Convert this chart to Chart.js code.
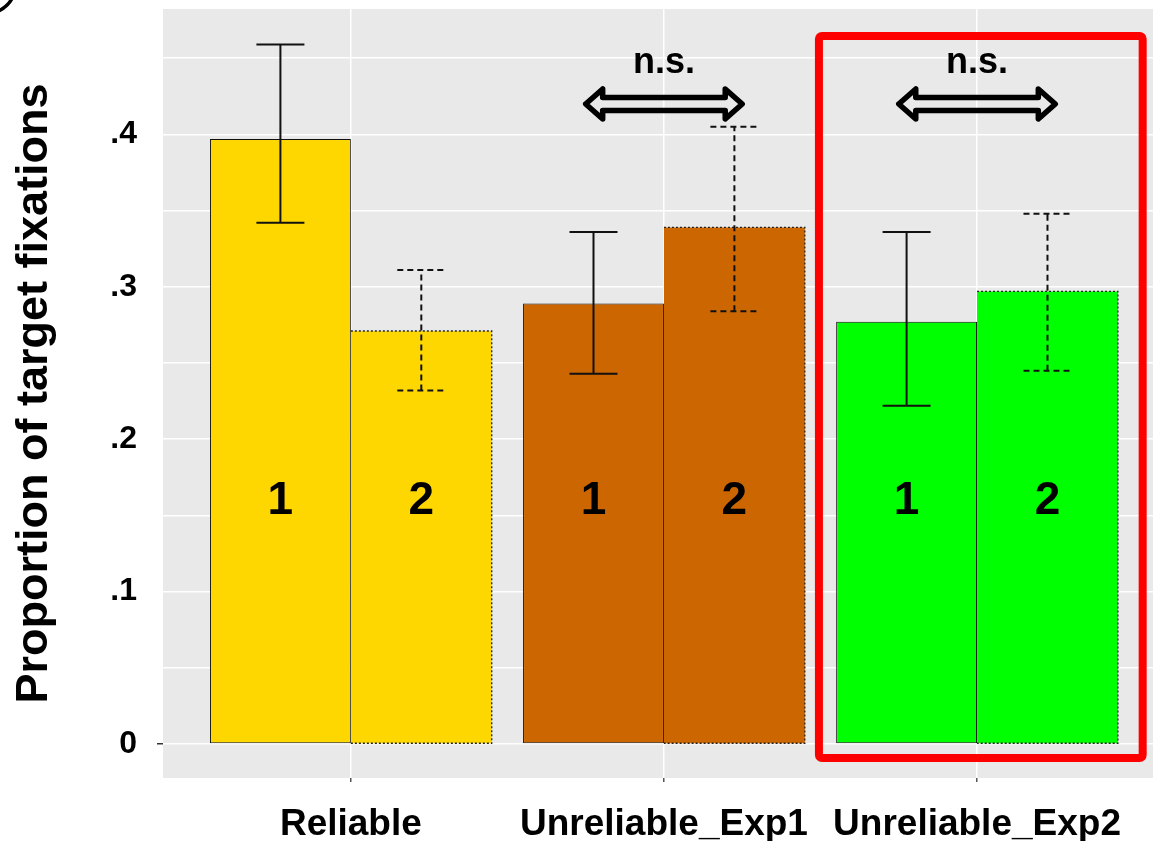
<!DOCTYPE html>
<html>
<head>
<meta charset="utf-8">
<script src="https://cdn.jsdelivr.net/npm/chart.js@4/dist/chart.umd.min.js"></script>
<style>
html,body{margin:0;padding:0;background:#fff;}
#wrap{width:1153px;height:841px;position:relative;}
</style>
</head>
<body>
<div id="wrap"><canvas id="c" width="1153" height="841"></canvas></div>
<script>
// ---- data ----
const categories = ['Reliable', 'Unreliable_Exp1', 'Unreliable_Exp2'];
const categoryPositions = [0, 1, 2];
const cond1Values = [0.397, 0.289, 0.277];
const cond2Values = [0.271, 0.339, 0.297];
const cond1Lower = [0.342, 0.243, 0.222];
const cond1Upper = [0.459, 0.336, 0.336];
const cond2Lower = [0.232, 0.284, 0.245];
const cond2Upper = [0.311, 0.405, 0.348];
const barColors = ['#FFD700', '#CC6600', '#00FF00'];
const barNumbers = ['1', '2'];
const barNumberY = 0.159;
const yTickValues = [0, 0.05, 0.1, 0.15, 0.2, 0.25, 0.3, 0.35, 0.4, 0.45];
const yTickLabels = {0: '0', 0.1: '.1', 0.2: '.2', 0.3: '.3', 0.4: '.4'};
const nsGroups = [1, 2];
const nsTextY = 0.447;
const nsArrowY = 0.420;
const nsArrowHalf = 0.25;
const highlightBox = {x0: 1.495, x1: 2.529, y0: -0.0092, y1: 0.4646};

const FONT = 'Liberation Sans, Arial, sans-serif';

const bgPlugin = {
  id: 'bg',
  beforeDraw(chart) {
    const {ctx, chartArea: a} = chart;
    ctx.save();
    ctx.fillStyle = '#E9E9E9';
    ctx.fillRect(a.left, a.top, a.right - a.left, a.bottom - a.top);
    // corner mark of panel letter
    ctx.strokeStyle = '#000';
    ctx.lineWidth = 3.5;
    ctx.beginPath();
    ctx.arc(-12, -14, 27, 0, Math.PI / 2);
    ctx.stroke();
    ctx.restore();
  }
};

const overlayPlugin = {
  id: 'overlay',
  afterDatasetsDraw(chart) {
    const {ctx} = chart;
    const xs = chart.scales.x, ys = chart.scales.y;
    ctx.save();
    // dotted borders for condition 2 bars
    const meta2 = chart.getDatasetMeta(1);
    meta2.data.forEach(bar => {
      const half = bar.width / 2;
      const l = bar.x - half, r = bar.x + half, t = bar.y, b = bar.base;
      ctx.strokeStyle = '#222';
      ctx.lineWidth = 1.3;
      ctx.setLineDash([2, 2]);
      ctx.beginPath();
      ctx.moveTo(l, t); ctx.lineTo(r, t); ctx.lineTo(r, b); ctx.lineTo(l, b);
      ctx.stroke();
    });
    ctx.setLineDash([]);
    // error bars
    const drawErr = (meta, lo, hi, dashed) => {
      meta.data.forEach((bar, i) => {
        const x = bar.x;
        const yl = ys.getPixelForValue(lo[i]);
        const yh = ys.getPixelForValue(hi[i]);
        const cw = 24;
        ctx.strokeStyle = '#111';
        ctx.lineWidth = 2;
        ctx.setLineDash(dashed ? [6, 4] : []);
        ctx.beginPath();
        ctx.moveTo(x, yl); ctx.lineTo(x, yh);
        ctx.moveTo(x - cw, yh); ctx.lineTo(x + cw, yh);
        ctx.moveTo(x - cw, yl); ctx.lineTo(x + cw, yl);
        ctx.stroke();
      });
      ctx.setLineDash([]);
    };
    drawErr(chart.getDatasetMeta(0), cond1Lower, cond1Upper, false);
    drawErr(meta2, cond2Lower, cond2Upper, true);
    // numbers in bars
    ctx.fillStyle = '#000';
    ctx.font = 'bold 46px ' + FONT;
    ctx.textAlign = 'center';
    ctx.textBaseline = 'middle';
    [0, 1].forEach(di => {
      chart.getDatasetMeta(di).data.forEach(bar => {
        ctx.fillText(barNumbers[di], bar.x, ys.getPixelForValue(barNumberY));
      });
    });
    // n.s. annotations
    nsGroups.forEach(g => {
      const cx = xs.getPixelForValue(g);
      ctx.fillStyle = '#000';
      ctx.font = 'bold 36px ' + FONT;
      ctx.fillText('n.s.', cx, ys.getPixelForValue(nsTextY));
      const cy = ys.getPixelForValue(nsArrowY);
      const L = xs.getPixelForValue(g + nsArrowHalf) - cx;
      const hl = 17, hh = 15, sh = 6.5;
      ctx.strokeStyle = '#000';
      ctx.lineWidth = 5.5;
      ctx.lineJoin = 'round';
      ctx.lineCap = 'round';
      ctx.beginPath();
      ctx.moveTo(cx - L, cy);
      ctx.lineTo(cx - L + hl, cy - hh);
      ctx.lineTo(cx - L + hl, cy - sh);
      ctx.lineTo(cx + L - hl, cy - sh);
      ctx.lineTo(cx + L - hl, cy - hh);
      ctx.lineTo(cx + L, cy);
      ctx.lineTo(cx + L - hl, cy + hh);
      ctx.lineTo(cx + L - hl, cy + sh);
      ctx.lineTo(cx - L + hl, cy + sh);
      ctx.lineTo(cx - L + hl, cy + hh);
      ctx.closePath();
      ctx.stroke();
    });
    // red highlight box
    const bx0 = xs.getPixelForValue(highlightBox.x0), bx1 = xs.getPixelForValue(highlightBox.x1);
    const by0 = ys.getPixelForValue(highlightBox.y1), by1 = ys.getPixelForValue(highlightBox.y0);
    ctx.strokeStyle = '#FF0000';
    ctx.lineWidth = 8;
    ctx.lineJoin = 'round';
    ctx.beginPath();
    ctx.roundRect(bx0, by0, bx1 - bx0, by1 - by0, 3);
    ctx.stroke();
    ctx.restore();
  }
};

new Chart(document.getElementById('c'), {
  type: 'bar',
  data: {
    datasets: [
      {
        label: 'Condition 1',
        data: categoryPositions.map((x, i) => ({x: x, y: cond1Values[i]})),
        backgroundColor: barColors,
        borderColor: '#111',
        borderWidth: 1,
        borderSkipped: false,
        categoryPercentage: 0.9,
        barPercentage: 1.0
      },
      {
        label: 'Condition 2',
        data: categoryPositions.map((x, i) => ({x: x, y: cond2Values[i]})),
        backgroundColor: barColors,
        borderWidth: 0,
        categoryPercentage: 0.9,
        barPercentage: 1.0
      }
    ]
  },
  options: {
    responsive: false,
    animation: false,
    devicePixelRatio: 1,
    layout: {padding: {top: 9, right: 0, left: 0, bottom: 0}},
    plugins: {legend: {display: false}, tooltip: {enabled: false}},
    scales: {
      x: {
        type: 'linear',
        min: -0.6,
        max: 2.562,
        offset: false,
        border: {display: false},
        grid: {
          offset: false,
          color: '#FFFFFF',
          lineWidth: 1.5,
          drawTicks: true,
          tickLength: 4,
          tickColor: '#555'
        },
        afterBuildTicks(scale) {
          scale.ticks = categoryPositions.map(v => ({value: v}));
        },
        ticks: {
          autoSkip: false,
          maxRotation: 0,
          padding: 21,
          color: '#000',
          font: {family: FONT, size: 37, weight: 'bold'},
          callback: (v) => categories[Math.round(v)]
        },
        afterFit(scale) {
          scale.height = 63;
          scale.paddingLeft = 0;
          scale.paddingRight = 0;
        }
      },
      y: {
        type: 'linear',
        min: -0.0223,
        max: 0.4823,
        border: {display: false},
        grid: {
          color: '#FFFFFF',
          lineWidth: 1.5,
          drawTicks: true,
          tickLength: 6,
          tickColor: (ctx) => (ctx.tick && ctx.tick.value === 0 ? '#333' : 'rgba(0,0,0,0)')
        },
        afterBuildTicks(scale) {
          scale.ticks = yTickValues.map(v => ({value: v}));
        },
        ticks: {
          padding: 20,
          color: '#000',
          font: {family: FONT, size: 32, weight: 'bold'},
          callback: (v) => {
            const k = Math.round(v * 100) / 100;
            return yTickLabels[k] !== undefined ? yTickLabels[k] : '';
          }
        },
        title: {
          display: true,
          text: 'Proportion of target fixations',
          color: '#000',
          font: {family: FONT, size: 45, weight: 'bold'},
          padding: {top: 8, bottom: 0}
        },
        afterFit(scale) {
          scale.width = 163;
          scale.paddingTop = 0;
          scale.paddingBottom = 0;
        }
      }
    }
  },
  plugins: [bgPlugin, overlayPlugin]
});
</script>
</body>
</html>
